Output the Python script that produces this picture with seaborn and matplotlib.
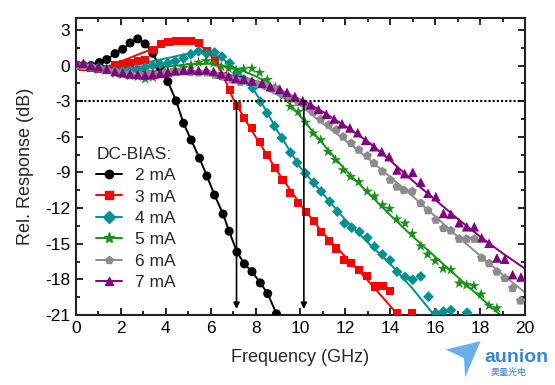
import matplotlib
matplotlib.use("Agg")
import matplotlib.pyplot as plt
import seaborn as sns
import pandas as pd
import numpy as np
from matplotlib.lines import Line2D
from matplotlib.patches import Polygon

# ---------------- data ----------------
bias_labels = ["2 mA", "3 mA", "4 mA", "5 mA", "6 mA", "7 mA"]

f_2mA = [0, 0.33, 0.67, 1.04, 1.37, 1.74, 2.08, 2.41, 2.75, 3.08, 3.42, 3.75, 4.09, 4.46,
         4.79, 5.13, 5.5, 5.83, 6.17, 6.55, 6.82, 7.17, 7.5, 7.84, 8.21, 8.54, 8.93]
r_2mA = [0, 0, 0, 0.25, 0.5, 1.0, 1.37, 1.9, 2.24, 1.82, 1.03, -0.23, -1.35, -2.98,
         -4.86, -6.27, -7.8, -9.3, -10.9, -12.5, -13.95, -15.7, -16.7, -17.35, -18.3, -19.2, -20.9]

f_3mA = [0, 0.33, 0.67, 1.0, 1.37, 1.74, 2.08, 2.41, 2.75, 3.08, 3.45, 3.78, 4.12, 4.46, 4.79,
         5.12, 5.46, 5.83, 6.2, 6.55, 6.85, 7.17, 7.5, 7.84, 8.18, 8.52, 8.86, 9.2, 9.55, 9.9,
         10.25, 10.6, 10.93, 11.27, 11.6, 11.93, 12.25, 12.6, 12.97, 13.3, 13.66, 13.98, 14.3, 14.98]
r_3mA = [0, -0.15, -0.2, -0.3, -0.3, 0.02, 0.1, 0.25, 0.39, 0.47, 1.31, 1.82, 2.0, 2.1, 2.1,
         2.1, 1.87, 1.25, 0.39, -0.88, -2.05, -3.4, -4.44, -5.28, -6.4, -7.53, -8.6, -9.63, -10.7, -11.55,
         -12.3, -13.06, -14.0, -14.8, -15.4, -16.4, -16.65, -17.2, -17.7, -18.6, -18.56, -19.0, -20.8, -20.8]

f_4mA = [0, 0.33, 0.67, 1.0, 1.37, 1.74, 2.08, 2.41, 2.75, 3.08, 3.42, 3.75, 4.09, 4.42, 4.79,
         5.12, 5.46, 5.83, 6.17, 6.5, 6.85, 7.17, 7.5, 7.87, 8.21, 8.51, 8.84, 9.17, 9.55, 9.85,
         10.22, 10.6, 10.92, 11.3, 11.64, 11.96, 12.28, 12.63, 12.98, 13.3, 13.65, 13.99, 14.3,
         14.66, 15.0, 15.36, 15.7, 16.03, 16.37, 16.7, 17.42]
r_4mA = [0, 0, -0.1, -0.2, -0.3, -0.45, -0.45, -0.4, -0.3, -0.15, 0.0, 0.1, 0.2, 0.35, 0.6,
         0.95, 1.2, 1.0, 1.1, 0.75, 0.2, -0.6, -1.2, -1.9, -3.04, -4.0, -5.1, -6.1, -7.33, -8.18,
         -9.07, -9.86, -10.6, -11.46, -12.3, -13.28, -13.65, -14.0, -14.5, -15.25, -15.9, -16.4, -17.36,
         -17.8, -18.03, -17.75, -19.46, -20.85, -20.7, -20.6, -20.8]

f_5mA = [0, 0.33, 0.67, 1.0, 1.37, 1.74, 2.08, 2.41, 2.75, 3.08, 3.42, 3.75, 4.09, 4.42, 4.79,
         5.12, 5.46, 5.8, 6.13, 6.47, 6.8, 7.13, 7.47, 7.84, 8.18, 8.52, 8.88, 9.22, 9.55, 9.9,
         10.22, 10.56, 10.9, 11.23, 11.56, 11.9, 12.23, 12.6, 12.98, 13.3, 13.65, 13.97, 14.29,
         14.66, 14.98, 15.36, 15.66, 16.0, 16.35, 16.7, 17.07, 17.4, 17.72, 18.05, 18.4, 18.75]
r_5mA = [0, 0, -0.1, -0.2, -0.37, -0.65, -0.75, -0.85, -0.93, -1.13, -1.0, -0.7, -0.5, -0.37, -0.2,
         0.05, 0.25, 0.39, 0.2, -0.09, -0.25, -0.37, -0.3, -0.25, -0.6, -1.2, -1.85, -2.55, -3.46, -3.9,
         -4.8, -5.7, -6.27, -7.25, -7.95, -8.8, -9.36, -9.8, -10.6, -11.0, -11.74, -12.05, -12.94,
         -13.28, -14.15, -15.2, -15.9, -16.45, -17.1, -17.2, -18.33, -18.47, -18.55, -19.25, -20.2, -20.42]

f_6mA = [0, 0.33, 0.67, 1.0, 1.37, 1.74, 2.08, 2.41, 2.86, 3.23, 3.6, 3.97, 4.35, 4.72, 5.09,
         5.46, 5.83, 6.2, 6.58, 6.95, 7.32, 7.7, 8.07, 8.44, 8.8, 9.18, 9.55, 9.9, 10.22, 10.56,
         10.9, 11.26, 11.6, 11.9, 12.26, 12.6, 12.98, 13.27, 13.65, 14.0, 14.3, 14.6, 14.98, 15.36,
         15.68, 16.03, 16.37, 16.7, 17.07, 17.4, 17.74, 18.07, 18.4, 18.75, 19.1, 19.45, 19.8]
r_6mA = [0, -0.05, -0.1, -0.2, -0.4, -0.5, -0.6, -0.7, -0.8, -0.7, -0.8, -0.6, -0.5, -0.5, -0.55,
         -0.6, -0.6, -0.8, -0.95, -1.2, -1.4, -1.4, -1.55, -1.7, -1.95, -2.4, -2.8, -3.1, -3.46, -3.9,
         -4.55, -5.0, -5.42, -6.0, -6.54, -7.1, -7.61, -8.23, -8.93, -9.63, -10.2, -10.5, -10.6, -11.6,
         -12.2, -13.0, -13.7, -13.9, -14.6, -14.6, -14.6, -16.2, -16.65, -17.36, -17.9, -18.75, -19.8]

f_7mA = [0, 0.33, 0.67, 1.0, 1.37, 1.74, 2.08, 2.41, 2.75, 3.08, 3.42, 3.75, 4.09, 4.42, 4.79,
         5.12, 5.46, 5.8, 6.13, 6.47, 6.8, 7.13, 7.47, 7.84, 8.29, 8.66, 9.08, 9.4, 9.75, 10.1,
         10.45, 10.8, 11.15, 11.5, 11.85, 12.2, 12.55, 12.9, 13.27, 13.62, 13.95, 14.3, 14.64, 15.0,
         15.36, 15.68, 16.03, 16.37, 16.7, 17.07, 17.4, 17.74, 18.07, 18.4, 18.75, 19.1, 19.45, 19.82]
r_7mA = [0.25, 0.2, 0.0, -0.1, -0.3, -0.5, -0.6, -0.7, -0.75, -0.8, -0.75, -0.65, -0.55, -0.45, -0.4,
         -0.35, -0.4, -0.37, -0.5, -0.7, -0.9, -1.1, -1.15, -1.3, -1.5, -1.78, -2.0, -2.25, -2.6, -2.95,
         -3.3, -3.7, -4.1, -4.5, -4.9, -5.25, -5.65, -6.3, -6.83, -7.25, -7.67, -8.79, -9.1, -8.98,
         -9.82, -10.75, -11.04, -12.44, -12.5, -13.23, -13.57, -13.57, -14.5, -14.96, -16.2, -16.3, -17.6, -17.8]

# fitted (model) curves
fit_f_2mA = f_2mA
fit_r_2mA = r_2mA
fit_f_3mA = [0, 0.8, 1.2, 2, 3, 4, 4.5, 5, 5.5, 5.8, 6.2, 6.55, 7, 7.5, 8, 9, 10, 11, 12, 13, 14.3]
fit_r_3mA = [0, -0.2, -0.25, 0.35, 1.1, 1.8, 2.0, 2.05, 1.7, 1.3, 0.4, -0.85, -2.8, -4.45, -6.0,
             -9.0, -11.7, -14.1, -16.1, -18.1, -20.9]
fit_f_4mA = [0, 1, 1.5, 2, 3, 4, 5, 5.5, 6, 6.5, 7, 7.5, 8, 8.5, 9, 10, 11, 12, 13, 14, 15, 15.95]
fit_r_4mA = [0, -0.2, -0.3, -0.2, 0.2, 0.6, 1.0, 1.1, 1.0, 0.6, -0.1, -1.1, -2.3, -3.9, -5.6,
             -8.6, -10.8, -13.0, -14.9, -16.7, -18.8, -21.0]
fit_f_5mA = [0, 2, 4, 5, 6, 6.5, 7, 7.5, 8, 8.5, 9, 9.5, 10, 11, 12, 13, 14, 15, 16, 17, 18, 18.9]
fit_r_5mA = [0, -0.2, -0.1, 0.1, 0.15, 0.0, -0.2, -0.5, -0.9, -1.4, -2.1, -3.2, -4.3, -6.6,
             -8.8, -10.7, -12.6, -14.4, -16.1, -17.8, -19.5, -21.0]
fit_f_6mA = [0, 1, 2.5, 4, 5, 6, 6.5, 7, 8, 9, 9.7, 10, 11, 12, 13, 14, 15, 16, 17, 18, 19, 20]
fit_r_6mA = [0, -0.3, -0.6, -0.6, -0.6, -0.75, -0.9, -1.1, -1.6, -2.5, -3.0, -3.35, -4.9, -6.3,
             -7.8, -9.4, -11.0, -12.7, -14.4, -16.0, -17.6, -19.1]
fit_f_7mA = [0, 1, 3, 5, 6, 7, 7.5, 8, 9, 10.15, 11, 12, 13, 14, 15, 16, 17, 18, 19, 20]
fit_r_7mA = [0, -0.2, -0.5, -0.45, -0.55, -0.85, -1.0, -1.3, -2.0, -3.0, -3.9, -5.1, -6.4,
             -8.0, -9.7, -11.3, -12.9, -14.4, -15.8, -17.1]

f3db_marks = [7.15, 10.15]   # -3 dB bandwidths marked with arrows
level_3db = -3

colors = ["#000000", "#ff0000", "#009090", "#1a8f1a", "#8c8c8c", "#800080"]
markers = ["o", "s", "D", "*", "p", "^"]
msizes = [42, 34, 30, 70, 48, 48]

# ---------------- tables ----------------
pt_f = [f_2mA, f_3mA, f_4mA, f_5mA, f_6mA, f_7mA]
pt_r = [r_2mA, r_3mA, r_4mA, r_5mA, r_6mA, r_7mA]
fit_f = [fit_f_2mA, fit_f_3mA, fit_f_4mA, fit_f_5mA, fit_f_6mA, fit_f_7mA]
fit_r = [fit_r_2mA, fit_r_3mA, fit_r_4mA, fit_r_5mA, fit_r_6mA, fit_r_7mA]

pts = pd.concat([pd.DataFrame({"freq": f, "resp": r, "bias": b})
                 for f, r, b in zip(pt_f, pt_r, bias_labels)], ignore_index=True)
fits = pd.concat([pd.DataFrame({"freq": f, "resp": r, "bias": b})
                  for f, r, b in zip(fit_f, fit_r, bias_labels)], ignore_index=True)

# ---------------- plot ----------------
sns.set_style("ticks")
plt.rcParams["font.family"] = ["Liberation Sans", "DejaVu Sans"]
plt.rcParams["axes.unicode_minus"] = False

fig = plt.figure(figsize=(5.55, 3.85), dpi=100)
ax = fig.add_axes([76 / 555, 70 / 385, 449 / 555, 297 / 385])

palette = dict(zip(bias_labels, colors))
sns.lineplot(data=fits, x="freq", y="resp", hue="bias", palette=palette, sort=False,
             estimator=None, legend=False, ax=ax, lw=1.4, zorder=2)
for b, m, s in zip(bias_labels, markers, msizes):
    sub = pts[pts["bias"] == b]
    sns.scatterplot(data=sub, x="freq", y="resp", color=palette[b], marker=m, s=s,
                    edgecolor="none", linewidth=0, legend=False, ax=ax, zorder=3)

ax.axhline(level_3db, color="black", ls=(0, (1, 1)), lw=1.5, zorder=4)
for fb in f3db_marks:
    ax.annotate("", xy=(fb, -20.5), xytext=(fb, level_3db),
                arrowprops=dict(arrowstyle="-|>", color="black", lw=1.2,
                                mutation_scale=9, shrinkA=0, shrinkB=0), zorder=5)

ax.set_xlim(0, 20)
ax.set_ylim(-21, 4)
ax.set_xticks(np.arange(0, 21, 2))
ax.set_xticks(np.arange(1, 20, 2), minor=True)
ax.set_yticks(np.arange(-21, 4, 3))
ax.set_yticks(np.arange(-19.5, 4, 3), minor=True)
ax.tick_params(which="both", direction="in", top=True, right=True, labelsize=12.5,
               colors="black", width=1.2)
ax.tick_params(which="major", length=5, pad=4)
ax.tick_params(which="minor", length=3)
ax.set_xticklabels([str(v) for v in range(0, 21, 2)])
ax.set_yticklabels([str(v) for v in range(-21, 4, 3)])
for sp in ax.spines.values():
    sp.set_linewidth(1.5)
    sp.set_color("#222222")
ax.set_xlabel("Frequency (GHz)", fontsize=13, labelpad=10)
ax.set_ylabel("Rel. Response (dB)", fontsize=13, labelpad=8)

handles = [Line2D([], [], color=c, marker=m, markersize=6 if m != "*" else 8, lw=1.4)
           for c, m in zip(colors, markers)]
leg = ax.legend(handles, bias_labels, title="DC-BIAS:", loc="upper left",
                bbox_to_anchor=(0.03, 0.59), frameon=False, fontsize=12.5,
                title_fontsize=12.5, handlelength=1.5, handletextpad=0.7,
                labelspacing=0.36, borderaxespad=0)
leg._legend_box.align = "left"

# watermark logo
fig.text(0.872, 0.072, "aunion", color="#3b83d8", fontsize=14, fontweight="bold",
         ha="left", va="center")
fig.text(0.884, 0.032, "昊量光电", color="#3b83d8", fontsize=6.5, ha="left", va="center",
         family=["Noto Sans CJK SC", "DejaVu Sans"])
plane = Polygon([[0.803, 0.092], [0.866, 0.114], [0.838, 0.02], [0.836, 0.07]],
                closed=True, transform=fig.transFigure, facecolor="#5aa8e6",
                edgecolor="none", alpha=0.9)
fig.patches.append(plane)

fig.savefig("out.png", dpi=100)
